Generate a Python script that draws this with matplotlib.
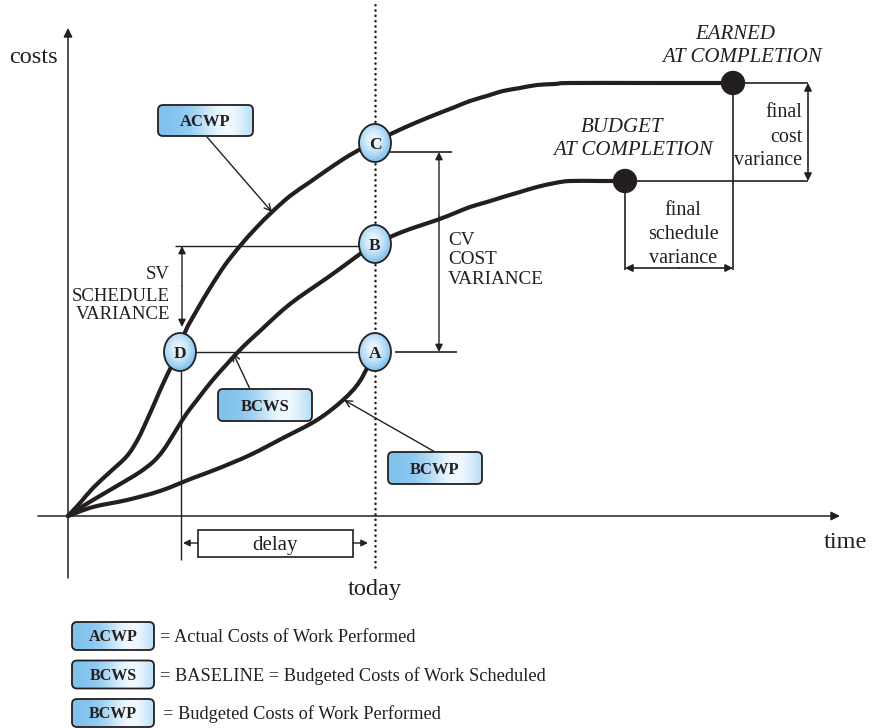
import numpy as np
import matplotlib
matplotlib.use("Agg")
import matplotlib.pyplot as plt
from matplotlib.patches import Ellipse, FancyBboxPatch, Rectangle, PathPatch
from matplotlib.path import Path

# %%
# Data (time units, cost units; origin of both axes at 0)

acwp_t = [0, 12, 25, 42, 59, 70, 79, 87, 94, 102, 110, 118, 129, 142, 157, 172, 188, 204,
          222, 242, 262, 282, 306, 327, 347, 369, 387, 402, 422, 435, 452, 469, 487, 502, 582, 665]
acwp_c = [0, 13, 28, 44, 60, 77, 96, 114, 130, 147, 164, 186, 206, 228, 251, 270, 288, 304,
          320, 334, 348, 361, 374, 384, 393, 402, 409, 415, 421, 425, 428, 431, 432, 433, 433, 433]

bcws_t = [0, 12, 25, 42, 59, 72, 85, 94, 102, 110, 119, 129, 139, 149, 159, 169, 180, 192, 207,
          222, 240, 259, 277, 292, 306, 322, 342, 369, 387, 402, 419, 435, 452, 469, 487, 502, 532, 557]
bcws_c = [0, 8, 16, 26, 36, 44, 54, 64, 76, 89, 103, 116, 129, 141, 152, 163, 174, 185, 199,
          212, 225, 238, 251, 262, 272, 279, 287, 296, 303, 309, 314, 319, 324, 329, 333, 335, 335, 335]

bcwp_t = [0, 25, 59, 92, 125, 149, 182, 215, 249, 275, 292, 306]
bcwp_c = [0, 9, 16, 25, 38, 47, 61, 78, 96, 116, 135, 163]

today = 307
d_time = 112
level_a, level_b, level_c = 164, 272, 373   # A = D, B, C on the today line
eac = (665, 433)   # earned at completion
bac = (557, 335)   # budget at completion

legend_names = ["ACWP", "BCWS", "BCWP"]
legend_texts = ["= Actual Costs of Work Performed",
                "= BASELINE = Budgeted Costs of Work Scheduled",
                "= Budgeted Costs of Work Performed"]

INK = "#231f20"
BLUE = np.array([0.50, 0.76, 0.93])
LIGHT = np.array([0.94, 0.975, 1.0])
SERIF = "Liberation Serif"


# %%
# Helpers

def label(ax, x, y, s, fs, ha="center", **kw):
    # put the visual middle of the glyphs on y (1 data unit = 1 px)
    ax.text(x, y - 0.34 * fs * 100 / 72, s, ha=ha, va="baseline", fontsize=fs,
            family=SERIF, color=INK, **kw)


def smooth(ax, xs, ys, lw=3.0):
    pts = np.column_stack([xs, ys]).astype(float)
    n = len(pts)
    verts, codes = [pts[0]], [Path.MOVETO]
    for i in range(n - 1):
        p0, p1 = pts[max(i - 1, 0)], pts[i]
        p2, p3 = pts[i + 1], pts[min(i + 2, n - 1)]
        verts += [p1 + (p2 - p0) / 6, p2 - (p3 - p1) / 6, p2]
        codes += [Path.CURVE4] * 3
    ax.add_patch(PathPatch(Path(verts, codes), fc="none", ec=INK, lw=lw,
                           capstyle="round", joinstyle="round", zorder=3))


def gradient_box(ax, x0, y0, w, h, name, fs=11.5):
    patch = FancyBboxPatch((x0, y0), w, h, boxstyle="round,pad=0,rounding_size=5",
                           fc="none", ec=INK, lw=1.3, zorder=6)
    ax.add_patch(patch)
    xs = np.linspace(0, 1, 200)
    wgt = np.exp(-((xs - 0.72) / 0.32) ** 2)
    row = BLUE[None, :] + (LIGHT - BLUE)[None, :] * wgt[:, None]
    img = np.repeat(row[None, :, :], 2, axis=0)
    im = ax.imshow(img, extent=[x0, x0 + w, y0, y0 + h], origin="lower",
                   aspect="auto", zorder=5.5, interpolation="bilinear")
    im.set_clip_path(patch)
    label(ax, x0 + w / 2, y0 + h / 2, name, fs, fontweight="bold", zorder=7)


def gradient_circle(ax, x, y, name, w=32, h=38):
    patch = Ellipse((x, y), w, h, fc="none", ec=INK, lw=1.3, zorder=6)
    ax.add_patch(patch)
    gx, gy = np.meshgrid(np.linspace(0, 1, 80), np.linspace(0, 1, 80))
    r = np.clip(np.hypot((gx - 0.45) / 0.55, (gy - 0.58) / 0.55), 0, 1)
    wgt = 1 - r ** 1.6
    img = BLUE[None, None, :] + (LIGHT - BLUE)[None, None, :] * wgt[:, :, None]
    im = ax.imshow(img, extent=[x - w / 2, x + w / 2, y - h / 2, y + h / 2],
                   origin="lower", aspect="auto", zorder=5.5, interpolation="bilinear")
    im.set_clip_path(patch)
    label(ax, x, y, name, 12.5, fontweight="bold", zorder=7)


def arrow(ax, start, end, style="-|>", lw=1.0, ms=11):
    ax.annotate("", xy=end, xytext=start,
                arrowprops=dict(arrowstyle=style, color=INK, lw=lw, mutation_scale=ms,
                                shrinkA=0, shrinkB=0), zorder=4)


def line(ax, xs, ys, lw=1.0, z=2):
    ax.plot(xs, ys, color=INK, lw=lw, zorder=z, solid_capstyle="butt")


# %%
# Draw

fig = plt.figure(figsize=(8.72, 7.28), dpi=100)
ax = fig.add_axes([0, 0, 1, 1])
ax.set_axis_off()

# axes
arrow(ax, (-30, 0), (772, 0), lw=1.1, ms=13)
arrow(ax, (0, -62), (0, 488), lw=1.1, ms=13)
label(ax, -35, 461, "costs", 17.5)
label(ax, 777, -24, "time", 17.5)

# today
ax.plot([today, today], [-51, 512], color=INK, lw=1.9, linestyle=(0, (0.01, 2.0)),
        dash_capstyle="round", zorder=1)
label(ax, today, -71, "today", 17.5)

# curves
for ts, cs in [(acwp_t, acwp_c), (bcws_t, bcws_c), (bcwp_t, bcwp_c)]:
    smooth(ax, ts, cs)

# construction lines
line(ax, [d_time + 16, today - 16], [level_a, level_a])
line(ax, [today + 20, 389], [level_a, level_a], lw=1.2)
line(ax, [today + 15, 384], [364, 364], lw=1.2)
line(ax, [107, today - 16], [270, 270])
line(ax, [d_time + 1, d_time + 1], [level_a - 19, -44])

# CV
arrow(ax, (371, 300), (371, 364))
arrow(ax, (371, 300), (371, level_a))
for txt, cy in zip(["CV", "COST", "VARIANCE"], [278, 259, 239]):
    label(ax, 380, cy, txt, 13.8, ha="left")

# SV
arrow(ax, (114, 230), (114, 270))
arrow(ax, (114, 230), (114, 189))
for txt, cy in zip(["SV", "SCHEDULE", "VARIANCE"], [243, 221, 203]):
    label(ax, 102, cy, txt, 13.5, ha="right")

# delay
ax.add_patch(Rectangle((130, -41), 155, 27, fc="white", ec=INK, lw=1.2, zorder=3))
label(ax, 207, -27, "delay", 15, zorder=4)
arrow(ax, (130, -27), (115, -27), ms=10)
arrow(ax, (285, -27), (300, -27), ms=10)

# final variances
line(ax, [eac[0], 740], [eac[1], eac[1]], lw=1.2)
line(ax, [bac[0], 740], [bac[1], bac[1]], lw=1.2)
line(ax, [eac[0], eac[0]], [eac[1], 246], lw=1.2)
line(ax, [bac[0], bac[0]], [bac[1], 246], lw=1.2)
arrow(ax, (740, 384), (740, eac[1]), lw=1.2)
arrow(ax, (740, 384), (740, bac[1]), lw=1.2)
arrow(ax, (611, 248), (bac[0], 248), lw=1.2)
arrow(ax, (611, 248), (eac[0], 248), lw=1.2)
for txt, cy in zip(["final", "cost", "variance"], [406, 381, 358]):
    label(ax, 734, cy, txt, 14.5, ha="right")
for txt, cy in zip(["final", "schedule", "variance"], [308, 284, 260]):
    label(ax, 615, cy, txt, 14.5)

label(ax, 667, 484, "EARNED", 15, style="italic")
label(ax, 674, 461, "AT COMPLETION", 15, style="italic")
label(ax, 554, 391, "BUDGET", 15, style="italic")
label(ax, 565, 368, "AT COMPLETION", 15, style="italic")

# completion dots
for px, py in [eac, bac]:
    ax.add_patch(Ellipse((px, py), 23, 23, fc=INK, ec=INK, zorder=6))

# letters on the curves
gradient_circle(ax, d_time, level_a, "D")
gradient_circle(ax, today, level_a, "A")
gradient_circle(ax, today, level_b, "B")
gradient_circle(ax, today, level_c, "C")

# curve labels with pointers
gradient_box(ax, 90, 380, 95, 31, "ACWP", fs=12)
arrow(ax, (139, 379), (204, 304), style="->", ms=12)
gradient_box(ax, 150, 95, 94, 32, "BCWS", fs=12)
arrow(ax, (197, 95), (165, 163), style="->", ms=12)
gradient_box(ax, 320, 32, 94, 32, "BCWP", fs=12)
arrow(ax, (367, 64), (276, 116), style="->", ms=12)

# legend
for i, (name, txt) in enumerate(zip(legend_names, legend_texts)):
    cy = -120 - 38.5 * i
    gradient_box(ax, 4, cy - 14, 82, 28, name, fs=11.5)
    label(ax, 92 + (3 if i == 2 else 0), cy, txt, 13.2, ha="left")

ax.set_xlim(-68, 804)
ax.set_ylim(-212, 516)

fig.savefig("out.png", dpi=100)
